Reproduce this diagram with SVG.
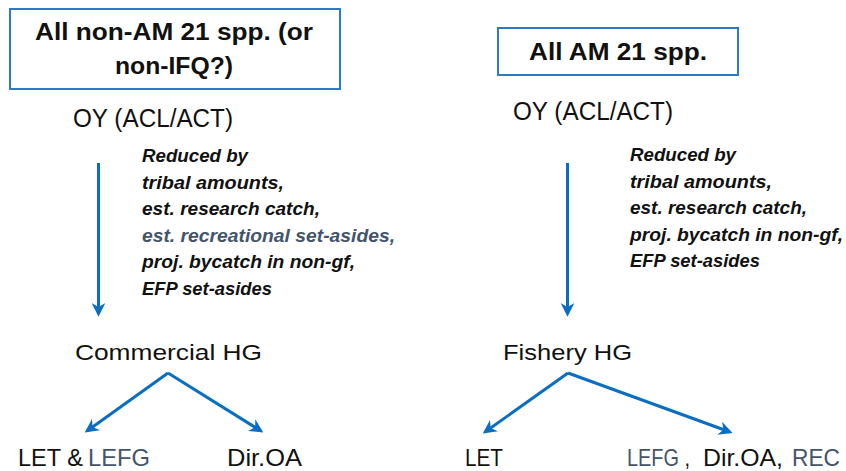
<svg xmlns="http://www.w3.org/2000/svg" width="846" height="471" viewBox="0 0 846 471">
<style>
.box{fill:#fff;stroke:#2E7BC4;stroke-width:2}
.hd{font-family:"Liberation Sans",Arial,sans-serif;font-weight:bold;font-size:23px;fill:#111}
.oy{font-family:"Liberation Sans",Arial,sans-serif;font-size:26px;fill:#111}
.it{font-family:"Liberation Sans",Arial,sans-serif;font-weight:bold;font-style:italic;font-size:19px;fill:#111}
.hg{font-family:"Liberation Sans",Arial,sans-serif;font-size:22px;fill:#111}
.bt{font-family:"Liberation Sans",Arial,sans-serif;font-size:24px;fill:#111}
.gb{fill:#44546A}
.ar{fill:none;stroke:#0A6FC2;stroke-width:3}
</style>
<defs>
<marker id="ah" viewBox="0 0 10 10" refX="8" refY="5" markerWidth="4.6" markerHeight="4.6" orient="auto" markerUnits="strokeWidth">
<path d="M0,0 L10,5 L0,10 L3,5 z" fill="#0A6FC2"/>
</marker>
</defs>
<rect width="846" height="471" fill="#fff"/>

<g id="box-non-am">
<rect class="box" x="10" y="9" width="330" height="80"/>
<text class="hd" x="35" y="40" textLength="278" lengthAdjust="spacingAndGlyphs">All non-AM 21 spp. (or</text>
<text class="hd" x="115" y="74" textLength="118" lengthAdjust="spacingAndGlyphs">non-IFQ?)</text>
</g>

<g id="box-am">
<rect class="box" x="498" y="28" width="240" height="47"/>
<text class="hd" x="529" y="60" textLength="178" lengthAdjust="spacingAndGlyphs">All AM 21 spp.</text>
</g>

<g id="oy-left">
<text class="oy" x="73" y="127" textLength="160" lengthAdjust="spacingAndGlyphs">OY (ACL/ACT)</text>
</g>
<g id="oy-right">
<text class="oy" x="513" y="120" textLength="160" lengthAdjust="spacingAndGlyphs">OY (ACL/ACT)</text>
</g>

<g id="reductions-left">
<text class="it" x="142" y="162" textLength="106" lengthAdjust="spacingAndGlyphs">Reduced by</text>
<text class="it" x="142" y="188.5" textLength="142" lengthAdjust="spacingAndGlyphs">tribal amounts,</text>
<text class="it" x="142" y="215" textLength="178" lengthAdjust="spacingAndGlyphs">est. research catch,</text>
<text class="it gb" x="142" y="241.5" textLength="253" lengthAdjust="spacingAndGlyphs">est. recreational set-asides,</text>
<text class="it" x="142" y="268" textLength="213" lengthAdjust="spacingAndGlyphs">proj. bycatch in non-gf,</text>
<text class="it" x="142" y="294.5" textLength="130" lengthAdjust="spacingAndGlyphs">EFP set-asides</text>
</g>

<g id="reductions-right">
<text class="it" x="630" y="161" textLength="106" lengthAdjust="spacingAndGlyphs">Reduced by</text>
<text class="it" x="630" y="187.5" textLength="142" lengthAdjust="spacingAndGlyphs">tribal amounts,</text>
<text class="it" x="630" y="214" textLength="177" lengthAdjust="spacingAndGlyphs">est. research catch,</text>
<text class="it" x="630" y="240.5" textLength="213" lengthAdjust="spacingAndGlyphs">proj. bycatch in non-gf,</text>
<text class="it" x="630" y="267" textLength="130" lengthAdjust="spacingAndGlyphs">EFP set-asides</text>
</g>

<g id="commercial-hg">
<text class="hg" x="75" y="360" textLength="187" lengthAdjust="spacingAndGlyphs">Commercial HG</text>
</g>
<g id="fishery-hg">
<text class="hg" x="503" y="360" textLength="129" lengthAdjust="spacingAndGlyphs">Fishery HG</text>
</g>

<g id="let-lefg">
<text class="bt" x="18" y="466" textLength="65" lengthAdjust="spacingAndGlyphs">LET &amp;</text>
<text class="bt gb" x="88" y="466" textLength="62" lengthAdjust="spacingAndGlyphs">LEFG</text>
</g>
<g id="dir-oa-left">
<text class="bt" x="227" y="466" textLength="75" lengthAdjust="spacingAndGlyphs">Dir.OA</text>
</g>
<g id="let-right">
<text class="bt" x="465" y="466" textLength="38" lengthAdjust="spacingAndGlyphs">LET</text>
</g>
<g id="lefg-diroa-rec">
<text class="bt" x="627" y="466" textLength="63" lengthAdjust="spacingAndGlyphs"><tspan class="gb">LEFG</tspan> ,</text>
<text class="bt" x="703" y="466" textLength="80" lengthAdjust="spacingAndGlyphs">Dir.OA,</text>
<text class="bt gb" x="792" y="466" textLength="48" lengthAdjust="spacingAndGlyphs">REC</text>
</g>

<g id="connectors">
<line class="ar" x1="98.5" y1="163" x2="98.5" y2="314" marker-end="url(#ah)"/>
<line class="ar" x1="567.5" y1="163" x2="567.5" y2="314" marker-end="url(#ah)"/>
<polyline class="ar" points="168,373 87,431" marker-end="url(#ah)"/>
<polyline class="ar" points="168,373 261,431" marker-end="url(#ah)"/>
<polyline class="ar" points="568,373 485,432" marker-end="url(#ah)"/>
<polyline class="ar" points="568,373 730,432" marker-end="url(#ah)"/>
</g>
</svg>
